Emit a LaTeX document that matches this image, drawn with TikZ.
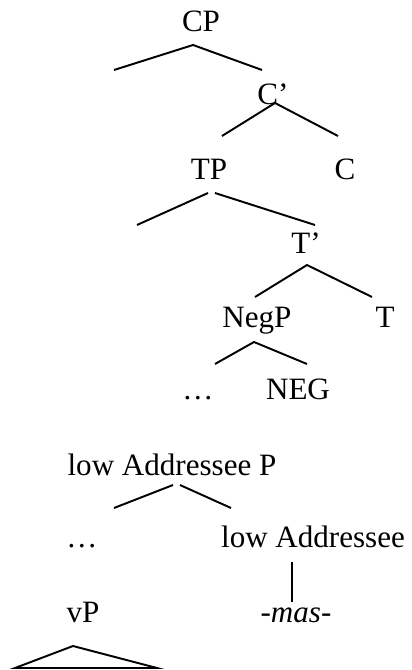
\documentclass[tikz,border=0pt]{standalone}
\usepackage{fontspec}
\setmainfont{Liberation Serif}
\usepackage{tikz}

\begin{document}
\begin{tikzpicture}[
x=0.75pt,
y=-0.75pt,
every node/.style={font=\fontsize{23.3}{28}\selectfont,inner sep=0pt,anchor=base},
branch/.style={line width=1.45pt},
]
\useasboundingbox (0,0) rectangle (411,670);

% labels, placed on their baselines
\node (cp) at (201,32) {CP};
\node (cbar) at (273,105) {C’};
\node (tp) at (209,180) {TP};
\node (c) at (345,180) {C};
\node (tbar) at (306,253) {T’};
\node (negp) at (257,327) {NegP};
\node (t) at (385,327) {T};
\node (negdots) at (198,399) {…};
\node (neg) at (298,399) {NEG};
\node (addp) at (172,475) {low Addressee P};
\node (adddots) at (82,547) {…};
\node (add) at (313,547) {low Addressee};
\node (vp) at (83,622) {vP};
\node (mas) at (296,622) {\textit{-mas-}};

% branch points
\coordinate (cp-a) at (193,45);
\coordinate (cp-l) at (114,70);
\coordinate (cp-r) at (262,70);
\coordinate (cbar-a) at (275,103);
\coordinate (cbar-l) at (222,136);
\coordinate (cbar-r) at (338,136);
\coordinate (tp-al) at (208,193);
\coordinate (tp-ar) at (215,193);
\coordinate (tp-l) at (137,225);
\coordinate (tp-r) at (315,225);
\coordinate (tbar-a) at (307,265);
\coordinate (tbar-l) at (255,297);
\coordinate (tbar-r) at (372,297);
\coordinate (negp-a) at (254,342);
\coordinate (negp-l) at (215,364);
\coordinate (negp-r) at (307,364);
\coordinate (addp-al) at (173,485);
\coordinate (addp-ar) at (180,485);
\coordinate (addp-l) at (114,508);
\coordinate (addp-r) at (231,508);
\coordinate (add-b) at (292,562);
\coordinate (mas-t) at (292,602);
\coordinate (vp-a) at (73,646);
\coordinate (vp-l) at (15,668);
\coordinate (vp-r) at (157,668);

\draw[branch] (cp-l) -- (cp-a) -- (cp-r);
\draw[branch] (cbar-l) -- (cbar-a) -- (cbar-r);
\draw[branch] (tp-l) -- (tp-al);
\draw[branch] (tp-ar) -- (tp-r);
\draw[branch] (tbar-l) -- (tbar-a) -- (tbar-r);
\draw[branch] (negp-l) -- (negp-a) -- (negp-r);
\draw[branch] (addp-l) -- (addp-al);
\draw[branch] (addp-ar) -- (addp-r);
\draw[branch] (add-b) -- (mas-t);
\draw[branch] (vp-l) -- (vp-a) -- (vp-r) -- cycle;
\end{tikzpicture}
\end{document}
